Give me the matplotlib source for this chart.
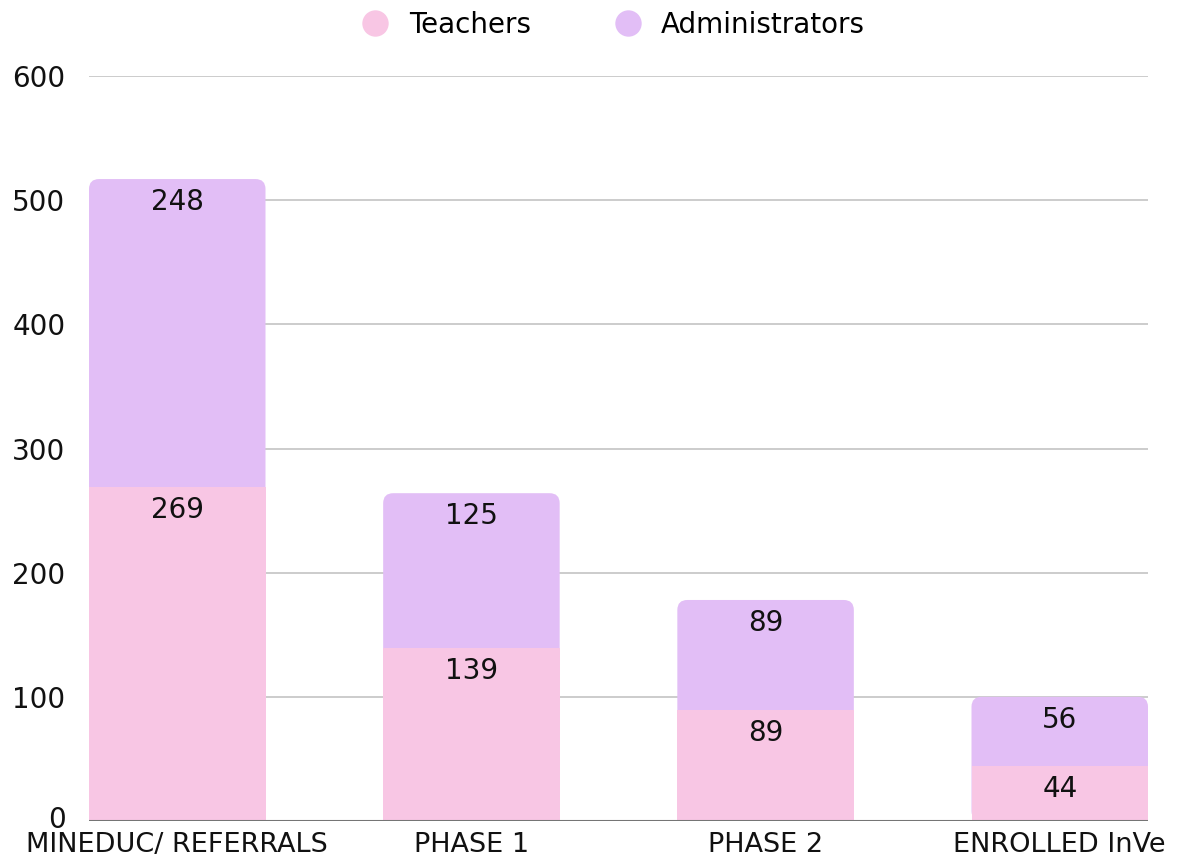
import matplotlib
matplotlib.use("Agg")
import matplotlib.pyplot as plt
import matplotlib.transforms as mtransforms
from matplotlib.patches import FancyBboxPatch
from matplotlib.lines import Line2D

categories = ["MINEDUC/ REFERRALS", "PHASE 1", "PHASE 2", "ENROLLED InVe"]
teachers = [269, 139, 89, 44]
administrators = [248, 125, 89, 56]
yticks = [0, 100, 200, 300, 400, 500, 600]

C_T = "#F8C6E4"
C_A = "#E2BEF6"

plt.rcParams['font.family'] = ['DejaVu Sans']
FS = 20

fig = plt.figure(figsize=(11.81, 8.61), dpi=100)
W, H = 1181, 861
ax = fig.add_axes([89 / W, 40 / H, (1148 - 89) / W, 745 / H])

x = list(range(len(categories)))
width = 0.6
totals = [t + a for t, a in zip(teachers, administrators)]

abars = ax.bar(x, administrators, width, bottom=teachers, color=C_A, zorder=2)
tbars = ax.bar(x, teachers, width, color=C_T, zorder=3)

ax.set_xlim(-0.3, len(categories) - 0.7)
ax.set_ylim(0, 600)

px_per_x = (1148 - 89) / (len(categories) - 0.4)
px_per_y = 745 / 600
r_px = 10
r_x = r_px / px_per_x
aspect = px_per_x / px_per_y

for b in abars:
    bx, bw = b.get_x(), b.get_width()
    top = b.get_y() + b.get_height()
    b.set_visible(False)
    p = FancyBboxPatch((bx, 0), bw, top, boxstyle=f"round,pad=0,rounding_size={r_x}",
                       mutation_aspect=aspect, facecolor=C_A, edgecolor="none", zorder=2)
    ax.add_patch(p)

for i in x:
    ax.annotate(str(teachers[i]), (i, teachers[i]), xytext=(0, -9), textcoords="offset pixels",
                ha="center", va="top", fontsize=FS, color="#111111", zorder=5)
    ax.annotate(str(administrators[i]), (i, totals[i]), xytext=(0, -9), textcoords="offset pixels",
                ha="center", va="top", fontsize=FS, color="#111111", zorder=5)

ax.set_yticks(yticks)
ax.set_yticklabels([str(v) for v in yticks], fontsize=FS)
ax.set_xticks(x)
ax.set_xticklabels(categories, fontsize=19.5)
ax.tick_params(axis="both", length=0, colors="#111111")
ax.tick_params(axis="y", pad=17)
ax.tick_params(axis="x", pad=8)
for s in ax.spines.values():
    s.set_visible(False)
ax.grid(axis="y", color="#c4c4c4", linewidth=1.2, zorder=0)
ax.set_axisbelow(True)
ax.axhline(0, color="#757575", linewidth=1.5, zorder=4)

# nudge the "0" label up slightly so it doesn't collide with the first category label
zero_lbl = ax.get_yticklabels()[0]
zero_lbl.set_transform(zero_lbl.get_transform() + mtransforms.Affine2D().translate(0, 4))

handles = [Line2D([], [], marker="o", linestyle="none", markersize=19, markerfacecolor=C_T, markeredgecolor="none"),
           Line2D([], [], marker="o", linestyle="none", markersize=19, markerfacecolor=C_A, markeredgecolor="none")]
fig.legend(handles, ["Teachers", "Administrators"], loc="center", bbox_to_anchor=(612 / W, 1 - 25 / H),
           ncol=2, frameon=False, fontsize=FS, handletextpad=0.6, columnspacing=2.9, handlelength=1.2)

fig.savefig("out.png", dpi=100)
